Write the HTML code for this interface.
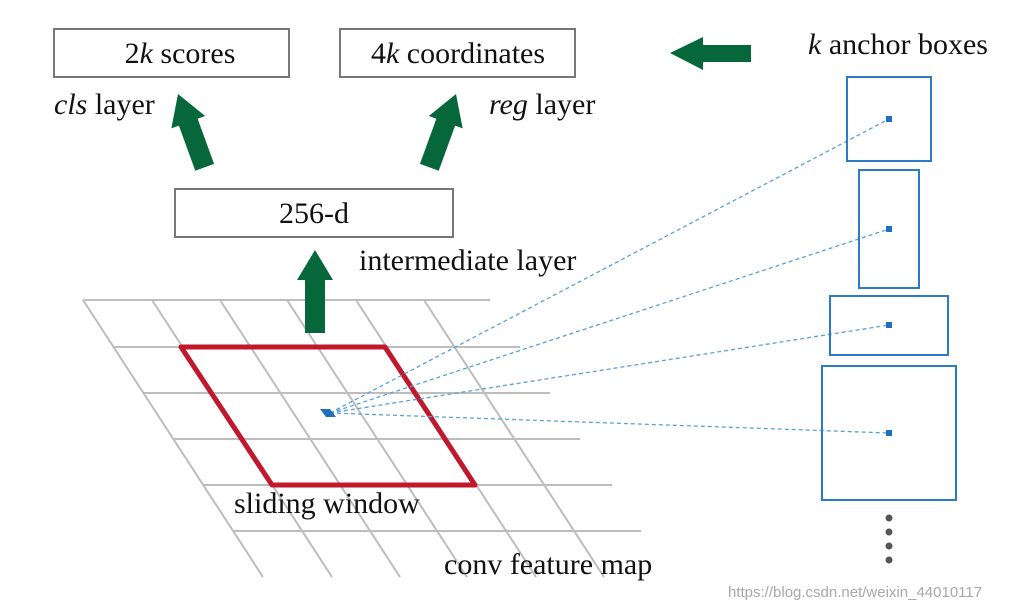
<!DOCTYPE html>
<html><head><meta charset="utf-8"><style>
html,body{margin:0;padding:0;background:#fff;width:1010px;height:608px;overflow:hidden}
text{font-family:"Liberation Serif",serif;fill:#111}
</style></head><body>
<svg width="1010" height="608" viewBox="0 0 1010 608" xmlns="http://www.w3.org/2000/svg">
<g stroke="#bdbdbd" stroke-width="2" fill="none">
<line x1="83" y1="300" x2="490" y2="300"/>
<line x1="113" y1="347" x2="520" y2="347"/>
<line x1="143" y1="393" x2="550" y2="393"/>
<line x1="173" y1="439" x2="580" y2="439"/>
<line x1="203" y1="485" x2="612" y2="485"/>
<line x1="233" y1="531" x2="641" y2="531"/>
<line x1="83" y1="300" x2="263" y2="577"/>
<line x1="152" y1="300" x2="332" y2="577"/>
<line x1="220" y1="300" x2="400" y2="577"/>
<line x1="287" y1="300" x2="467" y2="577"/>
<line x1="356" y1="300" x2="536" y2="577"/>
<line x1="424" y1="300" x2="604" y2="577"/>
</g>
<polygon points="181,347 385,347 475,485 272,485" fill="none" stroke="#c0192d" stroke-width="5" stroke-linejoin="round"/>
<g stroke="#5aa0d8" stroke-width="1.3" stroke-dasharray="4,3" fill="none">
<line x1="330" y1="413" x2="889" y2="119"/>
<line x1="330" y1="413" x2="889" y2="229"/>
<line x1="330" y1="413" x2="889" y2="325"/>
<line x1="330" y1="413" x2="889" y2="433"/>
</g>
<polygon points="320,409 330,409 336,417 326,417" fill="#1f6fbf"/>
<g stroke="#2a7cc7" stroke-width="2" fill="none">
<rect x="847" y="77" width="84" height="84"/>
<rect x="859" y="170" width="60" height="118"/>
<rect x="830" y="296" width="118" height="59"/>
<rect x="822" y="366" width="134" height="134"/>
</g>
<g fill="#1f6fbf">
<rect x="886" y="116" width="6" height="6"/>
<rect x="886" y="226" width="6" height="6"/>
<rect x="886" y="322" width="6" height="6"/>
<rect x="886" y="430" width="6" height="6"/>
</g>
<g fill="#555">
<circle cx="889" cy="518" r="3.5"/><circle cx="889" cy="532" r="3.5"/>
<circle cx="889" cy="546" r="3.5"/><circle cx="889" cy="560" r="3.5"/>
</g>
<g stroke="#777" stroke-width="2" fill="#fff">
<rect x="54" y="29" width="235" height="48"/>
<rect x="340" y="29" width="235" height="48"/>
<rect x="175" y="189" width="278" height="48"/>
</g>
<g fill="#06683a">
<polygon points="315,250 333,280 325,280 325,333 305,333 305,280 297,280"/>
<polygon points="670,53 703,37 703,45 751,45 751,62 703,62 703,70"/>
<polygon points="0,0 18,30 10,30 10,78 -10,78 -10,30 -18,30" transform="translate(178,94) rotate(-20)"/>
<polygon points="0,0 18,30 10,30 10,78 -10,78 -10,30 -18,30" transform="translate(456,94) rotate(20)"/>
</g>
<g font-size="30">
<text x="180" y="63" text-anchor="middle">2<tspan font-style="italic">k</tspan> scores</text>
<text x="458" y="63" text-anchor="middle">4<tspan font-style="italic">k</tspan> coordinates</text>
<text x="314" y="223" text-anchor="middle">256-d</text>
<text x="54" y="114"><tspan font-style="italic">cls</tspan> layer</text>
<text x="489" y="114"><tspan font-style="italic">reg</tspan> layer</text>
<text x="359" y="270">intermediate layer</text>
<text x="234" y="513">sliding window</text>
<text x="444" y="574">conv feature map</text>
<text x="808" y="54"><tspan font-style="italic">k</tspan> anchor boxes</text>
</g>
<text x="728" y="597" font-size="15" style="font-family:'Liberation Sans',sans-serif;fill:#a8a8a8">https://blog.csdn.net/weixin_44010117</text>
</svg>
</body></html>
